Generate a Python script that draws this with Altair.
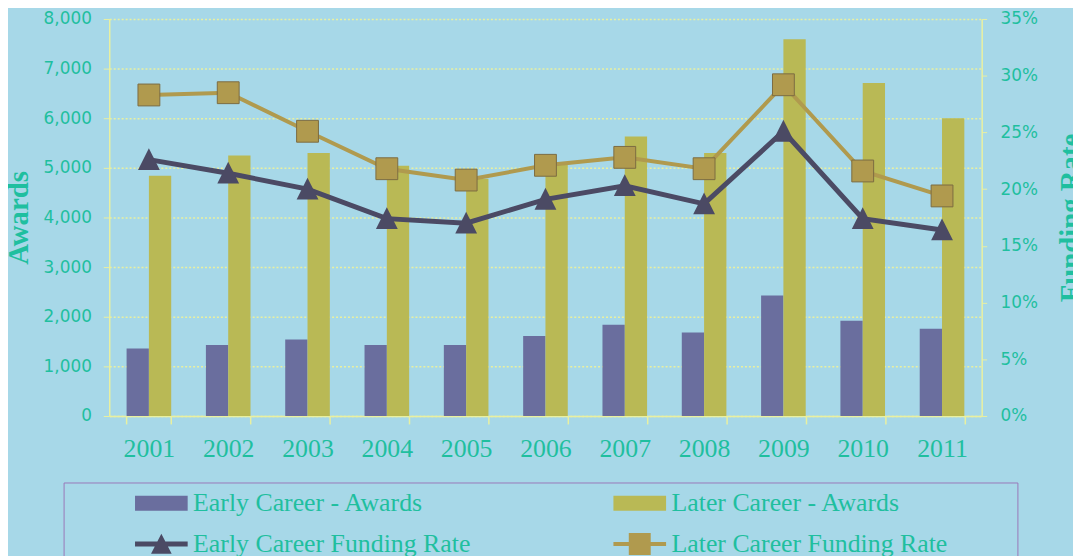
import altair as alt
import pandas as pd

years = ["2001", "2002", "2003", "2004", "2005", "2006", "2007", "2008", "2009", "2010", "2011"]
early_awards = [1360, 1430, 1540, 1430, 1430, 1610, 1840, 1680, 2430, 1920, 1760]
later_awards = [4840, 5250, 5300, 5040, 4780, 5060, 5630, 5300, 7590, 6710, 6000]
early_rate = [0.226, 0.214, 0.200, 0.174, 0.170, 0.191, 0.203, 0.187, 0.251, 0.174, 0.164]
later_rate = [0.283, 0.285, 0.251, 0.218, 0.208, 0.221, 0.228, 0.218, 0.292, 0.216, 0.194]

series_names = ["Early Career - Awards", "Later Career - Awards",
                "Early Career Funding Rate", "Later Career Funding Rate"]
series_colors = ["#6a6e9e", "#b9b955", "#4b4a64", "#b09a4e"]
# legend symbols; the zero-area segment only widens the legend box to the right
RIGHT_EXT = " M2.04,0H28.6"
legend_paths = [
    "M-2.04,-0.58H2.04V0.58H-2.04Z",
    "M-2.04,-0.58H2.04V0.58H-2.04Z" + RIGHT_EXT,
    "M-2.04,-0.19H2.04V0.19H-2.04Z M0,-0.8L0.8,0.75H-0.8Z",
    "M-2.04,-0.16H2.04V0.16H-2.04Z M-0.85,-0.85H0.85V0.85H-0.85Z" + RIGHT_EXT,
]
# legend is filled column by column: early entries in the first column
legend_order = [0, 2, 1, 3]
TRI_PATH = "M0,-1.05L1,0.95H-1Z"

TEAL = "#1fbf9f"
YEL = "#e9f0a0"
BG = "#a7d8e8"

awards_df = pd.DataFrame({
    "year": years * 2,
    "series": [series_names[0]] * len(years) + [series_names[1]] * len(years),
    "awards": early_awards + later_awards,
})
rates_df = pd.DataFrame({
    "year": years * 2,
    "series": [series_names[2]] * len(years) + [series_names[3]] * len(years),
    "rate": early_rate + later_rate,
})
legend_df = pd.DataFrame({"series": series_names})

color_scale = alt.Scale(domain=series_names, range=series_colors)
leg_domain = [series_names[i] for i in legend_order]
leg_colors = [series_colors[i] for i in legend_order]
leg_paths = [legend_paths[i] for i in legend_order]

x_enc = alt.X(
    "year:N", sort=years,
    scale=alt.Scale(paddingInner=0.4375, paddingOuter=0.21875),
    axis=alt.Axis(title=None, labelAngle=0, tickBand="extent", tickSize=8,
                  tickColor=YEL, domainColor=YEL, domainWidth=1.5, tickWidth=1.5,
                  labelFont="Liberation Serif", labelFontSize=26, labelColor=TEAL,
                  labelPadding=11.5, grid=False),
)

bars = alt.Chart(awards_df).mark_bar().encode(
    x=x_enc,
    xOffset=alt.XOffset("series:N", sort=series_names[:2],
                        scale=alt.Scale(paddingInner=0, paddingOuter=0)),
    y=alt.Y("awards:Q", scale=alt.Scale(domain=[0, 8000]),
            axis=alt.Axis(title="Awards", values=[0, 1000, 2000, 3000, 4000, 5000, 6000, 7000, 8000],
                          format=",d", grid=True, gridColor=YEL, gridDash=[2, 2], gridWidth=1.5,
                          domainColor=YEL, domainWidth=1.5, tickColor=YEL, tickSize=6,
                          labelFont="DejaVu Sans", labelFontSize=17, labelColor=TEAL,
                          labelPadding=12, labelFlush=False,
                          titleFont="Liberation Serif", titleFontSize=29, titleFontWeight="bold",
                          titleColor=TEAL, titleAngle=270, titleAlign="center",
                          titleBaseline="alphabetic", titleX=-82, titleY=200)),
    color=alt.Color("series:N", scale=color_scale, legend=None),
)

rate_y = alt.Y("rate:Q", scale=alt.Scale(domain=[0, 0.35]),
               axis=alt.Axis(orient="right", title="Funding Rate",
                             values=[0, 0.05, 0.1, 0.15, 0.2, 0.25, 0.3, 0.35],
                             format=".0%", grid=False, domainColor=YEL, domainWidth=1.5,
                             tickColor=YEL, tickSize=5,
                             labelFont="DejaVu Sans", labelFontSize=17, labelColor=TEAL,
                             labelPadding=13.5, labelFlush=False,
                             titleFont="Liberation Serif", titleFontSize=29, titleFontWeight="bold",
                             titleColor=TEAL, titleAngle=270, titleAlign="center",
                             titleBaseline="alphabetic", titleX=99, titleY=200))

base = alt.Chart(rates_df).encode(
    x=x_enc, y=rate_y,
    color=alt.Color("series:N", scale=color_scale, legend=None),
)

later_line = base.transform_filter(alt.datum.series == series_names[3]).mark_line(strokeWidth=4)
later_pts = base.transform_filter(alt.datum.series == series_names[3]).mark_point(
    shape="square", filled=True, size=484, opacity=1, stroke="#7c6c42", strokeWidth=1)
early_line = base.transform_filter(alt.datum.series == series_names[2]).mark_line(strokeWidth=5)
early_pts = base.transform_filter(alt.datum.series == series_names[2]).mark_point(
    shape=TRI_PATH, filled=True, size=484, opacity=1)

rates = alt.layer(later_line, later_pts, early_line, early_pts)

LEG = alt.Legend(
    title=None,
    orient="none", legendX=-46, legendY=467,
    columns=2, columnPadding=80, rowPadding=15,
    symbolSize=676, symbolOffset=77.5, labelOffset=19, symbolStrokeWidth=0,
    labelFont="Liberation Serif", labelFontSize=26, labelColor=TEAL, labelLimit=500,
    strokeColor="#9a78b8", padding=8,
)

legend_layer = alt.Chart(legend_df).transform_filter("false").mark_point(
    filled=True, opacity=1).encode(
    color=alt.Color("series:N", scale=alt.Scale(domain=leg_domain, range=leg_colors), legend=LEG),
    shape=alt.Shape("series:N", scale=alt.Scale(domain=leg_domain, range=leg_paths), legend=LEG),
)

chart = alt.layer(bars, rates, legend_layer).resolve_scale(
    y="independent", color="independent", shape="independent"
).properties(
    width=879, height=400,
    autosize=alt.AutoSizeParams(type="none"),
    padding={"left": 102, "top": 9, "right": 92, "bottom": 139},
    background=BG,
).configure_view(strokeWidth=0)

chart.save("out.html", embed_options={"renderer": "svg", "actions": False})
